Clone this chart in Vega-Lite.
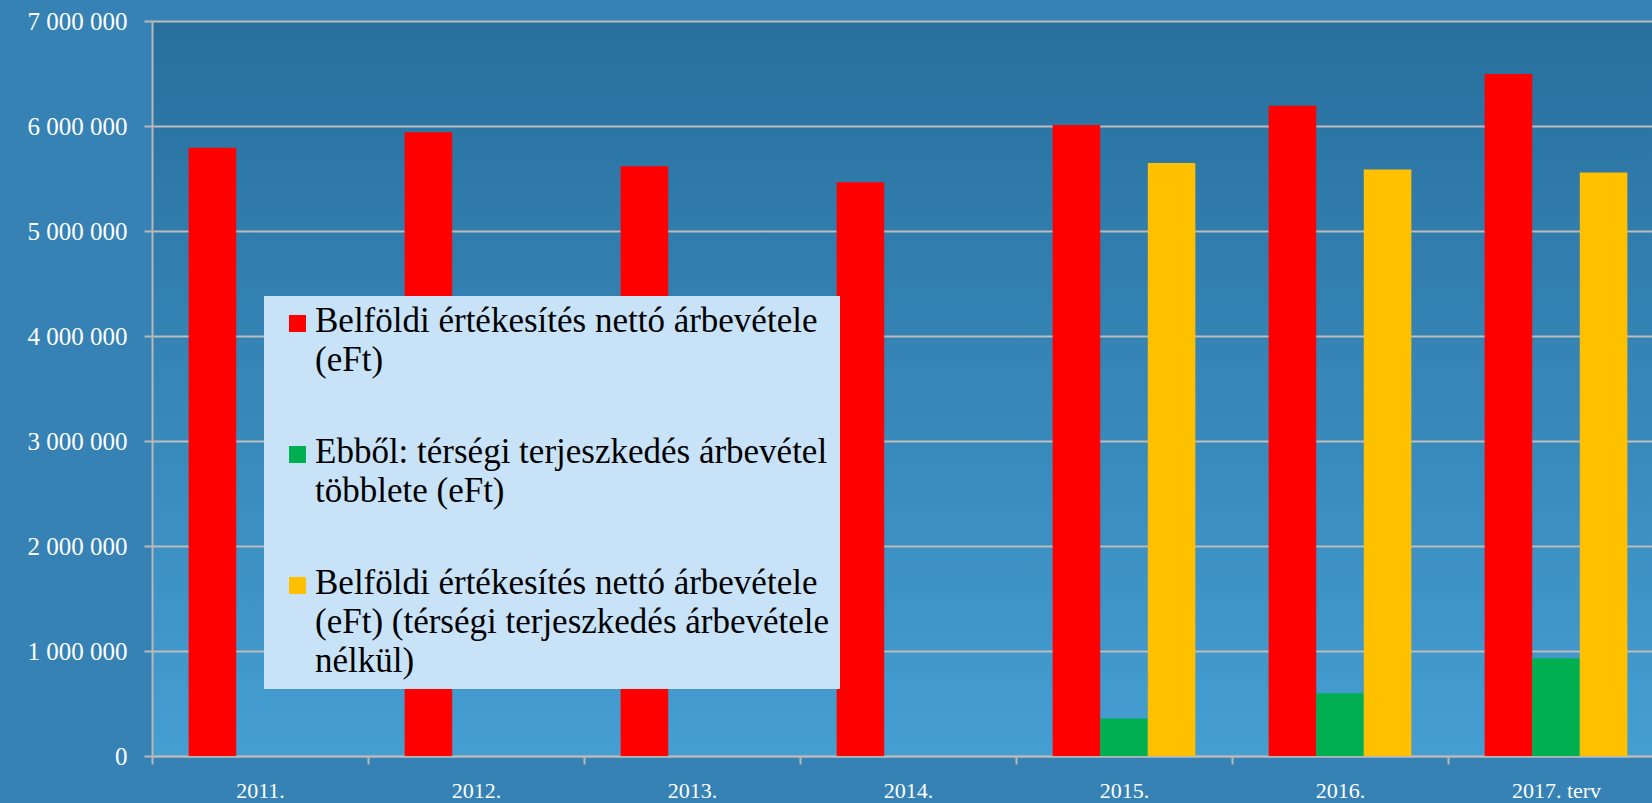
{
  "$schema": "https://vega.github.io/schema/vega-lite/v6.json",
  "autosize": {"type": "none"},
  "padding": {"left": 152, "top": 21, "right": 0, "bottom": 47},
  "width": 1500,
  "height": 735,
  "background": "#3682b5",
  "config": {
    "view": {"stroke": null, "fill": {"gradient": "linear", "x1": 0, "y1": 0, "x2": 0, "y2": 1, "stops": [{"offset": 0, "color": "#286f9d"}, {"offset": 1, "color": "#459ed2"}]}},
    "font": "Liberation Serif"
  },
  "data": {
    "values": [
      {"year": "2011.", "series": "Belföldi értékesítés nettó árbevétele (eFt)", "value": 5794000},
      {"year": "2012.", "series": "Belföldi értékesítés nettó árbevétele (eFt)", "value": 5940000},
      {"year": "2013.", "series": "Belföldi értékesítés nettó árbevétele (eFt)", "value": 5616000},
      {"year": "2014.", "series": "Belföldi értékesítés nettó árbevétele (eFt)", "value": 5464000},
      {"year": "2015.", "series": "Belföldi értékesítés nettó árbevétele (eFt)", "value": 6010000},
      {"year": "2015.", "series": "Ebből: térségi terjeszkedés árbevétel többlete (eFt)", "value": 356000},
      {"year": "2015.", "series": "Belföldi értékesítés nettó árbevétele (eFt) (térségi terjeszkedés árbevétele nélkül)", "value": 5648000},
      {"year": "2016.", "series": "Belföldi értékesítés nettó árbevétele (eFt)", "value": 6194000},
      {"year": "2016.", "series": "Ebből: térségi terjeszkedés árbevétel többlete (eFt)", "value": 597000},
      {"year": "2016.", "series": "Belföldi értékesítés nettó árbevétele (eFt) (térségi terjeszkedés árbevétele nélkül)", "value": 5585000},
      {"year": "2017. terv", "series": "Belföldi értékesítés nettó árbevétele (eFt)", "value": 6495000},
      {"year": "2017. terv", "series": "Ebből: térségi terjeszkedés árbevétel többlete (eFt)", "value": 930000},
      {"year": "2017. terv", "series": "Belföldi értékesítés nettó árbevétele (eFt) (térségi terjeszkedés árbevétele nélkül)", "value": 5556000}
    ]
  },
  "mark": {"type": "bar"},
  "encoding": {
    "x": {
      "field": "year", "type": "nominal", "sort": null,
      "scale": {"range": [0, 1512], "paddingInner": 0, "paddingOuter": 0},
      "axis": {
        "title": null, "labelAngle": 0, "labelColor": "white", "labelFont": "Liberation Serif", "labelFontSize": 22,
        "labelPadding": 16, "tickBand": "extent", "tickSize": 8, "tickColor": "#b8b8b8", "tickWidth": 2,
        "domainColor": "#b8b8b8", "domainWidth": 2, "grid": false, "labelBaseline": "top"
      }
    },
    "xOffset": {
      "field": "series", "type": "nominal",
      "sort": ["Belföldi értékesítés nettó árbevétele (eFt)", "Ebből: térségi terjeszkedés árbevétel többlete (eFt)", "Belföldi értékesítés nettó árbevétele (eFt) (térségi terjeszkedés árbevétele nélkül)"],
      "scale": {"paddingInner": 0, "paddingOuter": 0.77}
    },
    "y": {
      "field": "value", "type": "quantitative",
      "scale": {"domain": [0, 7000000], "nice": false},
      "axis": {
        "title": null, "values": [0, 1000000, 2000000, 3000000, 4000000, 5000000, 6000000, 7000000],
        "labelExpr": "replace(replace(format(datum.value, ','), ',', ' '), ',', ' ')",
        "labelColor": "white", "labelFont": "Liberation Serif", "labelFontSize": 25, "labelPadding": 17,
        "tickSize": 8, "tickColor": "#b8b8b8", "tickWidth": 2,
        "domainColor": "#b8b8b8", "domainWidth": 2,
        "grid": true, "gridColor": "#bcbcbc", "gridWidth": 2
      }
    },
    "color": {
      "field": "series", "type": "nominal",
      "scale": {
        "domain": ["Belföldi értékesítés nettó árbevétele (eFt)", "Ebből: térségi terjeszkedés árbevétel többlete (eFt)", "Belföldi értékesítés nettó árbevétele (eFt) (térségi terjeszkedés árbevétele nélkül)"],
        "range": ["#ff0000", "#00b050", "#ffc000"]
      },
      "legend": {
        "title": null, "orient": "none", "legendX": 112, "legendY": 275,
        "fillColor": "#c8e2f8", "padding": 10, "strokeColor": null,
        "symbolType": "square", "symbolSize": 289, "symbolStrokeWidth": 0, "symbolOpacity": 1, "symbolOffset": 6,
        "labelFont": "Liberation Serif", "labelFontSize": 35, "labelColor": "black", "labelLimit": 1000,
        "labelOffset": 0, "rowPadding": 56, "labelBaseline": "alphabetic",
        "labelExpr": "datum.label == 'Belföldi értékesítés nettó árbevétele (eFt)' ? ['Belföldi értékesítés nettó árbevétele', '(eFt)'] : datum.label == 'Ebből: térségi terjeszkedés árbevétel többlete (eFt)' ? ['Ebből: térségi terjeszkedés árbevétel', 'többlete (eFt)'] : ['Belföldi értékesítés nettó árbevétele', '(eFt) (térségi terjeszkedés árbevétele', 'nélkül)']",
        "encode": {"labels": {"update": {"dy": {"value": 8}, "lineHeight": {"value": 39}}}}
      }
    }
  }
}
